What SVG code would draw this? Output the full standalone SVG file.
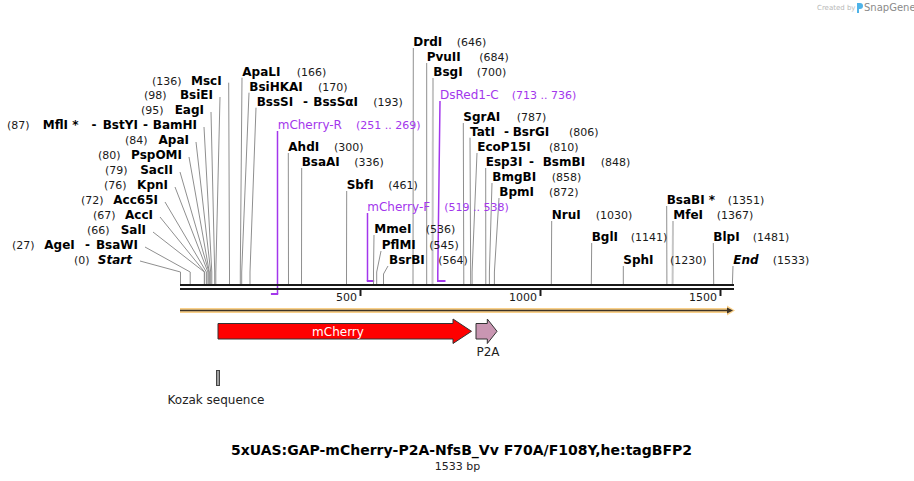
<svg xmlns="http://www.w3.org/2000/svg" width="914" height="481" viewBox="0 0 914 481">
<style>
.b{font-family:"DejaVu Sans",Verdana,sans-serif;font-size:12px;font-weight:bold;fill:#000}
.bi{font-family:"DejaVu Sans",Verdana,sans-serif;font-size:12px;font-weight:bold;font-style:italic;fill:#000}
.n{font-family:"DejaVu Sans",Verdana,sans-serif;font-size:11px;fill:#1a1a1a}
.pr{font-family:"DejaVu Sans",Verdana,sans-serif;font-size:12px;fill:#a336ec}
.prn{font-family:"DejaVu Sans",Verdana,sans-serif;font-size:11px;fill:#a336ec}
.f{font-family:"DejaVu Sans",Verdana,sans-serif;font-size:12px;fill:#222}
.ln{fill:none;stroke:#8f8f8f;stroke-width:1}
.lt{fill:none;stroke:#c6c6c6;stroke-width:2}
.pl{fill:none;stroke:#a336ec;stroke-width:1.5}
.pm{fill:none;stroke:#a336ec;stroke-width:2}
.ax{stroke:#1a1a1a;stroke-width:2}
</style>
<rect width="914" height="481" fill="#fff"/>

<g id="logo">
<text x="817" y="10" style="font-family:'DejaVu Sans',sans-serif;font-size:7px;fill:#b8b8b8">Created by</text>
<path d="M857,3 h3 a3,3 0 0 1 0,6 h-1 v4 h-2 z" fill="#4fb3e8"/>
<text x="864" y="11" style="font-family:'DejaVu Sans',sans-serif;font-size:10px;fill:#8a8a8a">SnapGene</text>
</g>

<g id="primers">
<polyline class="pl" points="277.5,131 277.5,294"/>
<line class="pm" x1="270.9" y1="294" x2="278.2" y2="294"/>
<polyline class="pl" points="367.5,213 367.5,281"/>
<line class="pm" x1="366.8" y1="281" x2="374.2" y2="281"/>
<polyline class="pl" points="440,101 437.8,272 437.8,281"/>
<line class="pm" x1="437" y1="281" x2="445.5" y2="281"/>
</g>

<g id="connectors">
<polyline class="ln" points="228.7,82.7 229.5,272 229.5,284"/>
<polyline class="ln" points="220,97 215.8,272 215.8,284"/>
<polyline class="ln" points="211,112 214.7,272 214.7,284"/>
<polyline class="ln" points="204,127 211.8,272 211.8,284"/>
<polyline class="ln" points="196,142 210.7,272 210.7,284"/>
<polyline class="ln" points="189,157 209.3,272 209.3,284"/>
<polyline class="ln" points="180,172 208.9,272 208.9,284"/>
<polyline class="ln" points="175,187 207.9,272 207.9,284"/>
<polyline class="ln" points="165,202 206.4,272 206.4,284"/>
<polyline class="ln" points="160,217 204.6,272 204.6,284"/>
<polyline class="ln" points="153,232 204.3,272 204.3,284"/>
<polyline class="ln" points="145,247 190.2,272 190.2,284"/>
<polyline class="ln" points="140,261 180.5,272 180.5,284"/>

<polyline class="ln" points="242,77.7 240.3,272 240.3,284"/>
<polyline class="ln" points="249,92.7 241.7,272 241.7,284"/>
<polyline class="ln" points="256,107.7 250,272 250,284"/>
<polyline class="ln" points="288.3,153 288.5,284"/>
<polyline class="ln" points="301.7,168 301.5,284"/>
<polyline class="ln" points="346.7,191 346.5,284"/>
<polyline class="ln" points="374,235 373.5,272 373.5,284"/>
<polyline class="ln" points="381,251 376.7,272 376.7,284"/>
<polyline class="ln" points="388,266 383.5,274 383.5,284"/>
<polyline class="ln" points="413.3,48 413,284"/>
<polyline class="ln" points="426.7,63 426.7,284"/>
<polyline class="lt" points="433,78 432.5,284"/>
<polyline class="ln" points="463.3,123 463.8,284"/>
<polyline class="ln" points="470,137.7 470.7,284"/>
<polyline class="ln" points="477,153 472.1,272 472.1,284"/>
<polyline class="ln" points="485.7,168 485.8,284"/>
<polyline class="ln" points="492,183 489.4,272 489.4,284"/>
<polyline class="ln" points="499,198 494.4,272 494.4,284"/>
<polyline class="ln" points="551.7,221 551.3,284"/>
<polyline class="ln" points="591.7,243 591.3,284"/>
<polyline class="ln" points="623.3,266 623.3,284"/>
<polyline class="ln" points="666.7,206 666.9,284"/>
<polyline class="lt" points="673,221 672.6,284"/>
<polyline class="ln" points="713.3,243 713.7,284"/>
<polyline class="ln" points="733,266 732.4,284"/>
</g>

<g id="axis">
<line class="ax" x1="180" y1="285" x2="734" y2="285"/>
<line class="ax" x1="180" y1="289" x2="734" y2="289"/>
<line class="ax" x1="360.5" y1="289" x2="360.5" y2="296"/>
<line class="ax" x1="540.5" y1="289" x2="540.5" y2="296"/>
<line class="ax" x1="720.5" y1="289" x2="720.5" y2="296"/>
<text class="n" x="357" y="301" text-anchor="end">500</text>
<text class="n" x="537" y="301" text-anchor="end">1000</text>
<text class="n" x="717" y="301" text-anchor="end">1500</text>
</g>

<g id="sequence-bar">
<polygon points="180,308 727,308 727,305.5 735,310.5 727,315.5 727,313 180,313" fill="#f9d08a"/>
<line x1="180" y1="310.5" x2="729" y2="310.5" stroke="#3d3326" stroke-width="1.5"/>
<polygon points="727,307.5 733,310.5 727,313.5" fill="#3d3326"/>
</g>

<g id="mCherry">
<polygon points="218,323.5 453,323.5 453,319 471.5,331.3 453,343.5 453,339 218,339" fill="#ff0000" stroke="#333" stroke-width="1"/>
<text x="338" y="335.5" text-anchor="middle" style="font-family:'DejaVu Sans',Verdana,sans-serif;font-size:12px;fill:#fff">mCherry</text>
</g>
<g id="P2A">
<polygon points="476,323.5 487.3,323.5 487.3,319 497,331.3 487.3,343.5 487.3,339 476,339" fill="#c996b2" stroke="#333" stroke-width="1"/>
<text class="f" x="488" y="356" text-anchor="middle">P2A</text>
</g>
<g id="Kozak">
<rect x="216.5" y="370.5" width="3" height="15" fill="#a0a0a0" stroke="#444" stroke-width="1"/>
<text class="f" x="216" y="404" text-anchor="middle">Kozak sequence</text>
</g>

<g id="MscI"><text class="n" x="152" y="84.7">(136)</text><text class="b" x="221.7" y="84.7" text-anchor="end">MscI</text></g>
<g id="BsiEI"><text class="n" x="144" y="99">(98)</text><text class="b" x="213" y="99" text-anchor="end">BsiEI</text></g>
<g id="EagI"><text class="n" x="141" y="114">(95)</text><text class="b" x="204" y="114" text-anchor="end">EagI</text></g>
<g id="MflI"><text class="n" x="7" y="129">(87)</text><text class="b" x="42.7" y="129">MflI *</text><text class="b" x="91.5" y="129">-</text><text class="b" x="102.7" y="129">BstYI</text><text class="b" x="143" y="129">-</text><text class="b" x="197" y="129" text-anchor="end">BamHI</text></g>
<g id="ApaI"><text class="n" x="125" y="144">(84)</text><text class="b" x="189" y="144" text-anchor="end">ApaI</text></g>
<g id="PspOMI"><text class="n" x="98" y="159">(80)</text><text class="b" x="182" y="159" text-anchor="end">PspOMI</text></g>
<g id="SacII"><text class="n" x="105" y="174">(79)</text><text class="b" x="173" y="174" text-anchor="end">SacII</text></g>
<g id="KpnI"><text class="n" x="104" y="189">(76)</text><text class="b" x="168" y="189" text-anchor="end">KpnI</text></g>
<g id="Acc65I"><text class="n" x="81" y="204">(72)</text><text class="b" x="158" y="204" text-anchor="end">Acc65I</text></g>
<g id="AccI"><text class="n" x="93" y="219">(67)</text><text class="b" x="153" y="219" text-anchor="end">AccI</text></g>
<g id="SalI"><text class="n" x="87" y="234">(66)</text><text class="b" x="146" y="234" text-anchor="end">SalI</text></g>
<g id="AgeI"><text class="n" x="12" y="249">(27)</text><text class="b" x="44.3" y="249">AgeI</text><text class="b" x="85" y="249">-</text><text class="b" x="138" y="249" text-anchor="end">BsaWI</text></g>
<g id="Start"><text class="n" x="74" y="264">(0)</text><text class="bi" x="132" y="264" text-anchor="end">Start</text></g>

<g id="ApaLI"><text class="b" x="242.3" y="75.7">ApaLI</text><text class="n" x="296.7" y="75.7">(166)</text></g>
<g id="BsiHKAI"><text class="b" x="249.3" y="90.7">BsiHKAI</text><text class="n" x="318" y="90.7">(170)</text></g>
<g id="BssSI"><text class="b" x="256.7" y="105.7">BssSI</text><text class="b" x="303" y="105.7">-</text><text class="b" x="313.3" y="105.7">BssSαI</text><text class="n" x="373.3" y="105.7">(193)</text></g>
<g id="mCherry-R"><text class="pr" x="277.7" y="129">mCherry-R</text><text class="prn" x="356" y="129">(251 .. 269)</text></g>
<g id="AhdI"><text class="b" x="288.3" y="151">AhdI</text><text class="n" x="334" y="151">(300)</text></g>
<g id="BsaAI"><text class="b" x="301.7" y="166.3">BsaAI</text><text class="n" x="354.3" y="166.3">(336)</text></g>
<g id="SbfI"><text class="b" x="346.7" y="189">SbfI</text><text class="n" x="388.3" y="189">(461)</text></g>
<g id="mCherry-F"><text class="pr" x="367.3" y="210.7">mCherry-F</text><text class="prn" x="444.3" y="210.7">(519 .. 538)</text></g>
<g id="MmeI"><text class="b" x="374.3" y="233.3">MmeI</text><text class="n" x="425.7" y="233.3">(536)</text></g>
<g id="PflMI"><text class="b" x="381.7" y="249">PflMI</text><text class="n" x="429.3" y="249">(545)</text></g>
<g id="BsrBI"><text class="b" x="389" y="264">BsrBI</text><text class="n" x="438.3" y="264">(564)</text></g>
<g id="DrdI"><text class="b" x="413.3" y="46.3">DrdI</text><text class="n" x="456.7" y="46.3">(646)</text></g>
<g id="PvuII"><text class="b" x="426.7" y="61.3">PvuII</text><text class="n" x="479.3" y="61.3">(684)</text></g>
<g id="BsgI"><text class="b" x="433.3" y="76.3">BsgI</text><text class="n" x="476.7" y="76.3">(700)</text></g>
<g id="DsRed1-C"><text class="pr" x="440" y="99">DsRed1-C</text><text class="prn" x="511.7" y="99">(713 .. 736)</text></g>
<g id="SgrAI"><text class="b" x="463.3" y="121.3">SgrAI</text><text class="n" x="516.7" y="121.3">(787)</text></g>
<g id="TatI"><text class="b" x="470" y="135.7">TatI</text><text class="b" x="504" y="135.7">-</text><text class="b" x="512.7" y="135.7">BsrGI</text><text class="n" x="569" y="135.7">(806)</text></g>
<g id="EcoP15I"><text class="b" x="477.3" y="151">EcoP15I</text><text class="n" x="549" y="151">(810)</text></g>
<g id="Esp3I"><text class="b" x="485.7" y="166.3">Esp3I</text><text class="b" x="529" y="166.3">-</text><text class="b" x="542.7" y="166.3">BsmBI</text><text class="n" x="600.7" y="166.3">(848)</text></g>
<g id="BmgBI"><text class="b" x="492.3" y="181.3">BmgBI</text><text class="n" x="551.7" y="181.3">(858)</text></g>
<g id="BpmI"><text class="b" x="499.3" y="196.3">BpmI</text><text class="n" x="549" y="196.3">(872)</text></g>
<g id="NruI"><text class="b" x="551.7" y="219">NruI</text><text class="n" x="595.7" y="219">(1030)</text></g>
<g id="BglI"><text class="b" x="591.7" y="240.7">BglI</text><text class="n" x="630.7" y="240.7">(1141)</text></g>
<g id="SphI"><text class="b" x="623.3" y="264">SphI</text><text class="n" x="670" y="264">(1230)</text></g>
<g id="BsaBI"><text class="b" x="666.7" y="204">BsaBI *</text><text class="n" x="727.7" y="204">(1351)</text></g>
<g id="MfeI"><text class="b" x="673.3" y="219">MfeI</text><text class="n" x="716.7" y="219">(1367)</text></g>
<g id="BlpI"><text class="b" x="713.3" y="241.3">BlpI</text><text class="n" x="752.7" y="241.3">(1481)</text></g>
<g id="End"><text class="bi" x="733.3" y="264">End</text><text class="n" x="772.7" y="264">(1533)</text></g>

<g id="title">
<text x="461.5" y="455" text-anchor="middle" style="font-family:'DejaVu Sans',Verdana,sans-serif;font-size:14px;font-weight:bold;fill:#000">5xUAS:GAP-mCherry-P2A-NfsB_Vv F70A/F108Y,he:tagBFP2</text>
<text x="457.5" y="469.5" text-anchor="middle" style="font-family:'DejaVu Sans',Verdana,sans-serif;font-size:11px;fill:#222">1533 bp</text>
</g>
</svg>
